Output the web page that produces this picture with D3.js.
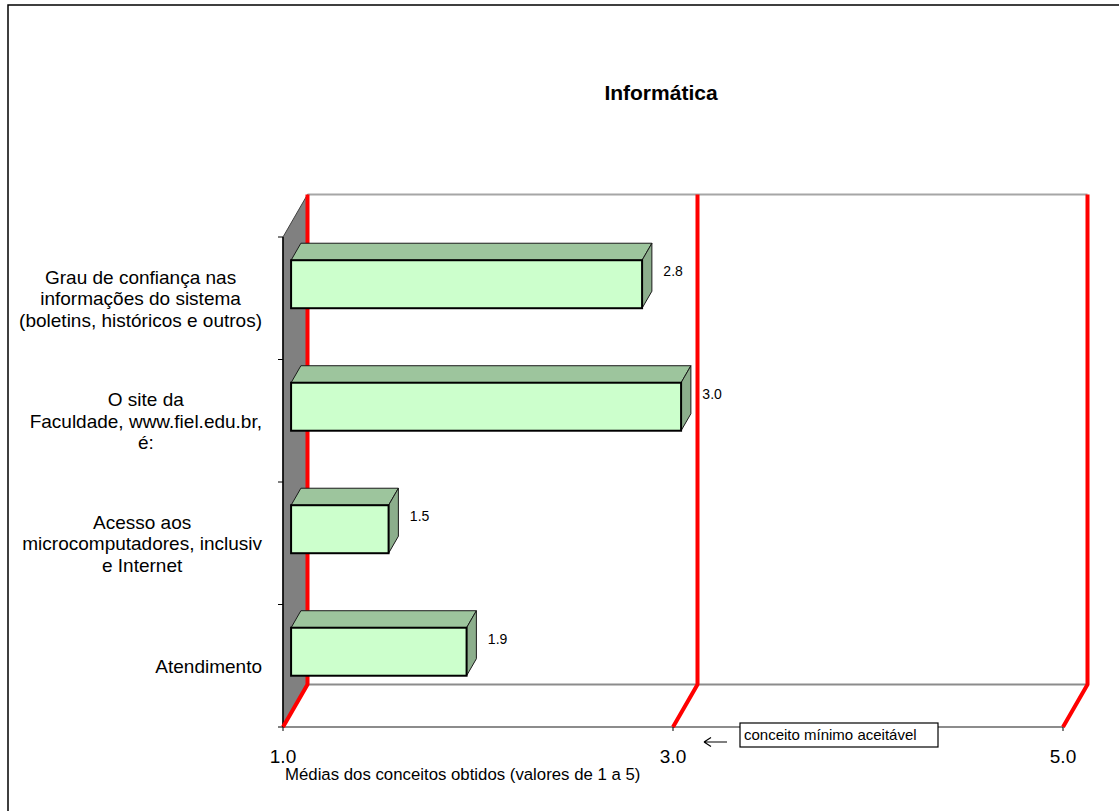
<!DOCTYPE html>
<html>
<head>
<meta charset="utf-8">
<script src="https://cdn.jsdelivr.net/npm/d3@7"></script>
<style>
  body { margin: 0; background: #fff; }
  text { font-family: "Liberation Sans", Arial, sans-serif; }
</style>
</head>
<body>
<script>
// chart data
const categories = [
  "Grau de confiança nas\ninformações do sistema\n(boletins, históricos e outros)",
  "O site da\nFaculdade, www.fiel.edu.br,\né:",
  "Acesso aos\nmicrocomputadores, inclusiv\ne Internet",
  "Atendimento"
]
const values = [2.8, 3.0, 1.5, 1.9]
const valueLabels = ["2.8", "3.0", "1.5", "1.9"]
const xTicks = [1, 3, 5]
const xTickLabels = ["1.0", "3.0", "5.0"]
const chartTitle = "Informática"
const xTitle = "Médias dos conceitos obtidos (valores de 1 a 5)"
const noteText = "conceito mínimo aceitável"

const W = 1119, H = 811
const svg = d3.select("body").append("svg")
  .attr("width", W)
  .attr("height", H)

// outer frame (runs off the right/bottom edge like the source)
svg.append("rect")
  .attr("x", 8).attr("y", 5)
  .attr("width", 1130).attr("height", 820)
  .attr("fill", "#fff").attr("stroke", "#000").attr("stroke-width", 1.5)

// front plane scales, depth given by DX / DY
const x = d3.scaleLinear().domain([1, 5]).range([283, 1063])
const y = d3.scaleBand().domain(categories).range([237, 727])
const DX = 24.5, DY = -42.5
const top0 = y.range()[0], bot0 = y.range()[1]

svg.append("text")
  .attr("x", 661).attr("y", 100)
  .attr("text-anchor", "middle")
  .attr("font-size", 21).attr("font-weight", "bold")
  .text(chartTitle)

// side wall
svg.append("path")
  .attr("d", d3.line()([[x(1), top0], [x(1) + DX, top0 + DY], [x(1) + DX, bot0 + DY], [x(1), bot0]]) + "Z")
  .attr("fill", "#808080").attr("stroke", "#404040").attr("stroke-width", 1)
svg.append("line")
  .attr("x1", x(1)).attr("x2", x(1)).attr("y1", top0).attr("y2", bot0)
  .attr("stroke", "#000").attr("stroke-width", 1.5)

// back wall top edge, floor edges
svg.append("line")
  .attr("x1", x(1) + DX).attr("x2", x(5) + DX)
  .attr("y1", top0 + DY).attr("y2", top0 + DY)
  .attr("stroke", "#a6a6a6").attr("stroke-width", 2)
svg.append("line")
  .attr("x1", x(1) + DX).attr("x2", x(5) + DX)
  .attr("y1", bot0 + DY).attr("y2", bot0 + DY)
  .attr("stroke", "#8c8c8c").attr("stroke-width", 2)
svg.append("line")
  .attr("x1", x(1)).attr("x2", x(5))
  .attr("y1", bot0).attr("y2", bot0)
  .attr("stroke", "#8c8c8c").attr("stroke-width", 2)

// red gridlines (back wall + floor)
svg.append("g").selectAll("path").data(xTicks).enter().append("path")
  .attr("d", d => d3.line()([[x(d) + DX, top0 + DY], [x(d) + DX, bot0 + DY], [x(d), bot0]]))
  .attr("fill", "none").attr("stroke", "#ff0000").attr("stroke-width", 4)
  .attr("stroke-linejoin", "round")

// category ticks
const catTicks = categories.map(c => y(c)).concat([bot0])
svg.append("g").selectAll("line").data(catTicks).enter().append("line")
  .attr("x1", x(1) - 5).attr("x2", x(1))
  .attr("y1", d => d).attr("y2", d => d)
  .attr("stroke", "#000").attr("stroke-width", 1)

// value ticks + labels
svg.append("g").selectAll("line").data(xTicks).enter().append("line")
  .attr("x1", d => x(d)).attr("x2", d => x(d))
  .attr("y1", bot0).attr("y2", bot0 + 4)
  .attr("stroke", "#000").attr("stroke-width", 1)
svg.append("g").selectAll("text").data(xTicks).enter().append("text")
  .attr("x", d => x(d)).attr("y", 763)
  .attr("text-anchor", "middle").attr("font-size", 19)
  .text((d, i) => xTickLabels[i])

svg.append("text")
  .attr("x", 285).attr("y", 780)
  .attr("font-size", 16.8)
  .text(xTitle)

// 3D bars
const z0 = 0.33, dz = 0.4, barH = 48
const bars = svg.append("g")
categories.forEach((c, i) => {
  const xl = x(1) + z0 * DX
  const xr = x(values[i]) + z0 * DX
  const yt = y(c) + y.bandwidth() / 2 - barH / 2 + z0 * DY
  const yb = yt + barH
  const ox = dz * DX, oy = dz * DY
  bars.append("path")
    .attr("d", d3.line()([[xl, yt], [xl + ox, yt + oy], [xr + ox, yt + oy], [xr, yt]]) + "Z")
    .attr("fill", "#9dc59d").attr("stroke", "#1a1a1a").attr("stroke-width", 1)
  bars.append("path")
    .attr("d", d3.line()([[xr, yt], [xr + ox, yt + oy], [xr + ox, yb + oy], [xr, yb]]) + "Z")
    .attr("fill", "#8cae8c").attr("stroke", "#1a1a1a").attr("stroke-width", 1)
  bars.append("rect")
    .attr("x", xl).attr("y", yt)
    .attr("width", xr - xl).attr("height", barH)
    .attr("fill", "#ccffcc").attr("stroke", "#000").attr("stroke-width", 2)
  bars.append("text")
    .attr("x", xr + 31).attr("y", yt + 16)
    .attr("text-anchor", "middle").attr("font-size", 14)
    .text(valueLabels[i])
})

// category labels: block right-aligned to the axis, lines centred in block
const lineH = 21.5
categories.forEach(c => {
  const lines = c.split("\n")
  const g = svg.append("g")
  const cy = y(c) + y.bandwidth() / 2
  const ts = lines.map((l, j) => g.append("text")
    .attr("y", cy + (j - (lines.length - 1) / 2) * lineH + 7)
    .attr("text-anchor", "middle").attr("font-size", 19)
    .text(l))
  const maxW = d3.max(ts, t => t.node().getComputedTextLength())
  ts.forEach(t => t.attr("x", 262 - maxW / 2))
})

// note box with arrow
svg.append("path")
  .attr("d", "M704,742 L727,742 M704,742 L711,737.5 M704,742 L711,746.5")
  .attr("fill", "none").attr("stroke", "#000").attr("stroke-width", 1.2)
svg.append("rect")
  .attr("x", 740).attr("y", 723).attr("width", 198).attr("height", 24)
  .attr("fill", "#fff").attr("stroke", "#000").attr("stroke-width", 1.2)
svg.append("text")
  .attr("x", 744).attr("y", 740)
  .attr("font-size", 15)
  .text(noteText)
</script>
</body>
</html>
